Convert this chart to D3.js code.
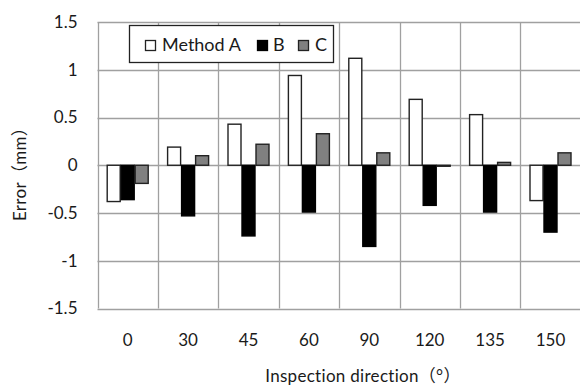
<!DOCTYPE html>
<html>
<head>
<meta charset="utf-8">
<script src="https://cdn.jsdelivr.net/npm/d3@7"></script>
<style>
  html, body { margin: 0; padding: 0; background: #fff; }
  svg { display: block; }
  text { font-family: Lato, "Noto Sans CJK JP", sans-serif; fill: #1a1a1a; }
</style>
</head>
<body>
<svg id="chart" width="580" height="385"></svg>
<script>
const categories = ["0", "30", "45", "60", "90", "120", "135", "150"];
const seriesNames = ["Method A", "B", "C"];
const seriesA = [-0.38, 0.19, 0.43, 0.94, 1.12, 0.69, 0.53, -0.37];
const seriesB = [-0.36, -0.53, -0.74, -0.49, -0.85, -0.42, -0.49, -0.70];
const seriesC = [-0.19, 0.10, 0.22, 0.33, 0.13, -0.01, 0.03, 0.13];
const yTicks = [1.5, 1, 0.5, 0, -0.5, -1, -1.5];
const yTickLabels = ["1.5", "1", "0.5", "0", "-0.5", "-1", "-1.5"];
const yTitle = "Error（mm）";
const xTitle = "Inspection direction（°）";

const fills = ["#ffffff", "#000000", "#808080"];
const strokes = ["#222222", "#000000", "#222222"];

const svg = d3.select("#chart");
const mLeft = 97.5, mTop = 22, bandW = 60.4;
const mRight = mLeft + bandW * categories.length, mBottom = 308.5;

const x = d3.scaleBand().domain(categories).range([mLeft, mRight]).padding(0);
const xs = d3.scaleBand().domain(seriesNames).range([0, x.bandwidth()]).paddingInner(0).paddingOuter(0.657);
const y = d3.scaleLinear().domain([-1.5, 1.5]).range([mBottom, mTop]);

// grid
const grid = svg.append("g");
grid.selectAll("line.h").data(yTicks).join("line")
  .attr("x1", mLeft).attr("x2", mRight)
  .attr("y1", d => Math.round(y(d)) + 0.5).attr("y2", d => Math.round(y(d)) + 0.5)
  .attr("stroke", "#a0a0a0").attr("stroke-width", 1.3);
grid.selectAll("line.v").data(categories).join("line")
  .attr("x1", d => Math.round(x(d)) + 0.5).attr("x2", d => Math.round(x(d)) + 0.5)
  .attr("y1", mTop).attr("y2", mBottom)
  .attr("stroke", "#a0a0a0").attr("stroke-width", 1.3);

// bars
const table = categories.map((c, i) => ({ cat: c, vals: [seriesA[i], seriesB[i], seriesC[i]] }));
const groups = svg.append("g").selectAll("g").data(table).join("g")
  .attr("transform", d => `translate(${x(d.cat)},0)`);
groups.selectAll("rect").data(d => d.vals.map((v, k) => ({ v, k }))).join("rect")
  .attr("x", d => xs(seriesNames[d.k]) + 0.5)
  .attr("width", xs.bandwidth() - 1)
  .attr("y", d => Math.min(y(d.v), y(0)) )
  .attr("height", d => Math.max(1, Math.abs(y(d.v) - y(0))))
  .attr("fill", d => fills[d.k])
  .attr("stroke", d => strokes[d.k])
  .attr("stroke-width", 1.4);

// y axis
const yAxis = d3.axisLeft(y).tickValues(yTicks).tickSize(0).tickPadding(20)
  .tickFormat((d, i) => yTickLabels[i]);
const gy = svg.append("g").attr("transform", `translate(${mLeft},0)`).call(yAxis);
gy.select(".domain").remove();
gy.selectAll("text").style("font-size", "17px").style("font-family", "Lato, sans-serif").attr("fill", "#1a1a1a");

// x axis
const xAxis = d3.axisBottom(x).tickSize(0).tickPadding(25);
const gx = svg.append("g").attr("transform", `translate(0,${mBottom})`).call(xAxis);
gx.select(".domain").remove();
gx.selectAll("text").style("font-size", "17px").style("font-family", "Lato, sans-serif").attr("fill", "#1a1a1a");

// titles
svg.append("text").attr("x", 363).attr("y", 382).attr("text-anchor", "middle")
  .style("font-size", "17px").style("letter-spacing", "0.3px").text(xTitle);
svg.append("text").attr("transform", "translate(26,170) rotate(-90)").attr("text-anchor", "middle")
  .style("font-size", "17px").style("letter-spacing", "0.3px").text(yTitle);

// legend
const lg = svg.append("g");
lg.append("rect").attr("x", 129.5).attr("y", 25.5).attr("width", 204).attr("height", 37)
  .attr("fill", "#fff").attr("stroke", "#222").attr("stroke-width", 1.3);
const legendItems = [
  { name: seriesNames[0], sx: 145, tx: 162 },
  { name: seriesNames[1], sx: 257, tx: 273 },
  { name: seriesNames[2], sx: 298, tx: 315 }
];
legendItems.forEach((it, k) => {
  lg.append("rect").attr("x", it.sx + 0.5).attr("y", 40.5).attr("width", 10).attr("height", 10)
    .attr("fill", fills[k]).attr("stroke", strokes[k]).attr("stroke-width", 1.3);
  lg.append("text").attr("x", it.tx).attr("y", 51).style("font-size", "18px").text(it.name);
});
</script>
</body>
</html>
